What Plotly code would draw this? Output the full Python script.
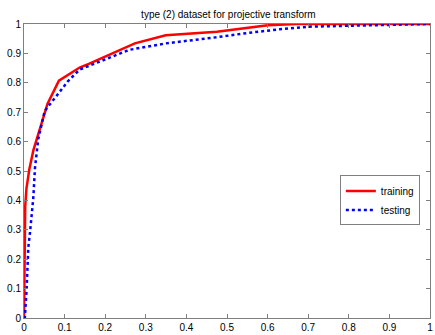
import plotly.graph_objects as go

train_x = [0, 0.001, 0.002, 0.003, 0.006, 0.013, 0.023, 0.058, 0.086, 0.137, 0.161, 0.2, 0.273, 0.349, 0.414, 0.475, 0.601, 0.67, 0.8, 1.0]
train_y = [0, 0.15, 0.30, 0.38, 0.44, 0.505, 0.57, 0.729, 0.807, 0.852, 0.865, 0.89, 0.934, 0.962, 0.968, 0.974, 0.996, 1.0, 1.0, 1.0]

test_x = [0, 0.002, 0.0065, 0.0106, 0.0147, 0.023, 0.027, 0.035, 0.051, 0.088, 0.108, 0.137, 0.21, 0.259, 0.349, 0.43, 0.475, 0.548, 0.63, 0.703, 0.80, 0.903, 1.0]
test_y = [0, 0.0, 0.10, 0.24, 0.29, 0.41, 0.51, 0.608, 0.704, 0.771, 0.805, 0.845, 0.884, 0.912, 0.934, 0.946, 0.955, 0.969, 0.982, 0.991, 0.994, 0.997, 1.0]

x_ticks = [0, 0.1, 0.2, 0.3, 0.4, 0.5, 0.6, 0.7, 0.8, 0.9, 1]
x_tick_labels = ["0", "0.1", "0.2", "0.3", "0.4", "0.5", "0.6", "0.7", "0.8", "0.9", "1"]
y_ticks = [0, 0.1, 0.2, 0.3, 0.4, 0.5, 0.6, 0.7, 0.8, 0.9, 1]
y_tick_labels = ["0", "0.1", "0.2", "0.3", "0.4", "0.5", "0.6", "0.7", "0.8", "0.9", "1"]

FONT = "Liberation Sans, Arial, sans-serif"

fig = go.Figure()
fig.add_trace(go.Scatter(x=train_x, y=train_y, mode="lines", name="training",
                         line=dict(color="#ff0000", width=2.5)))
fig.add_trace(go.Scatter(x=test_x, y=test_y, mode="lines", name="testing",
                         line=dict(color="#0000ff", width=2.5, dash="dot")))

axis_common = dict(range=[0, 1], showgrid=False, zeroline=False, showline=True,
                   linecolor="#7f7f7f", linewidth=1, mirror="ticks", ticks="inside",
                   ticklen=4, tickcolor="#7f7f7f", ticklabeloverflow="allow",
                   tickfont=dict(family=FONT, size=10, color="#000"))

fig.update_layout(
    width=435, height=335,
    margin=dict(l=24, r=2, t=24, b=15),
    paper_bgcolor="white", plot_bgcolor="white",
    title=dict(text="type (2) dataset for projective transform", x=0.525, xanchor="center",
               y=1 - 14 / 335, yanchor="middle",
               font=dict(family=FONT, size=10, color="#000")),
    xaxis=dict(**axis_common, tickvals=x_ticks, ticktext=x_tick_labels),
    yaxis=dict(**axis_common, tickvals=y_ticks, ticktext=y_tick_labels),
    legend=dict(x=0.975, y=0.485, xanchor="right", yanchor="top",
                bordercolor="#7f7f7f", borderwidth=1, bgcolor="white",
                font=dict(family=FONT, size=10, color="#000"),
                itemwidth=30, tracegroupgap=0),
    showlegend=True,
)

fig.write_html("out.html")
